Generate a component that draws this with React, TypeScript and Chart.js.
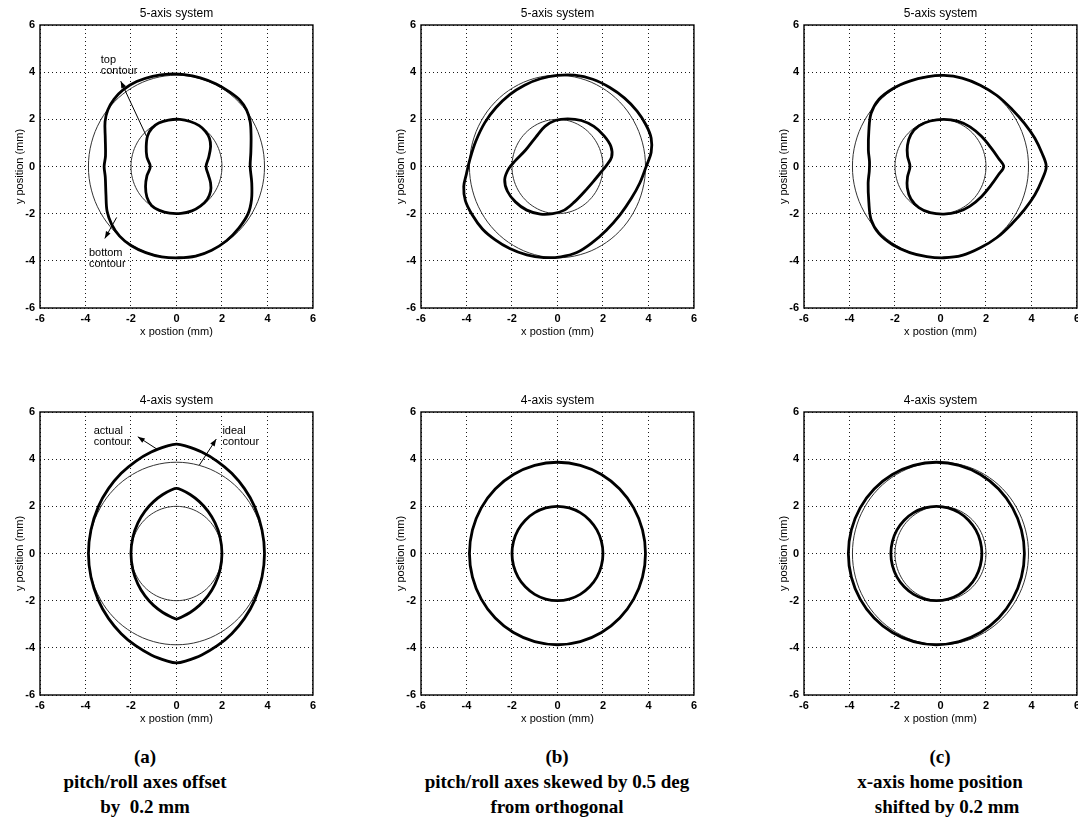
import React, { useEffect, useRef } from 'react';
import { Chart, registerables } from 'chart.js';

Chart.register(...registerables);

type Pt = [number, number];

// ---------- axes ----------
const AXIS_TICKS = [-6, -4, -2, 0, 2, 4, 6];
const AXIS_MIN = -6;
const AXIS_MAX = 6;
const X_LABEL = 'x postion (mm)';
const Y_LABEL = 'y position (mm)';
const TITLE_5 = '5-axis system';
const TITLE_4 = '4-axis system';

// ---------- ideal contours (thin) ----------
const IDEAL_INNER: Pt[] = [
  [2, 0], [1.932, 0.518], [1.732, 1], [1.414, 1.414], [1, 1.732], [0.518, 1.932], [0, 2],
  [-0.518, 1.932], [-1, 1.732], [-1.414, 1.414], [-1.732, 1], [-1.932, 0.518], [-2, 0],
  [-1.932, -0.518], [-1.732, -1], [-1.414, -1.414], [-1, -1.732], [-0.518, -1.932], [0, -2],
  [0.518, -1.932], [1, -1.732], [1.414, -1.414], [1.732, -1], [1.932, -0.518],
];
const IDEAL_OUTER: Pt[] = [
  [3.87, 0], [3.738, 1.002], [3.351, 1.935], [2.737, 2.737], [1.935, 3.351], [1.002, 3.738], [0, 3.87],
  [-1.002, 3.738], [-1.935, 3.351], [-2.737, 2.737], [-3.351, 1.935], [-3.738, 1.002], [-3.87, 0],
  [-3.738, -1.002], [-3.351, -1.935], [-2.737, -2.737], [-1.935, -3.351], [-1.002, -3.738], [0, -3.87],
  [1.002, -3.738], [1.935, -3.351], [2.737, -2.737], [3.351, -1.935], [3.738, -1.002],
];

// ---------- (a) 5-axis actual contours ----------
const A5_OUTER: Pt[] = [
  [3.24, 0], [3.27, 0.6], [3.28, 1.3], [3.24, 1.9], [3.08, 2.4], [2.8, 2.8], [2.35, 3.15], [1.75, 3.5],
  [1.05, 3.76], [0.35, 3.9], [-0.35, 3.92], [-1.05, 3.82], [-1.75, 3.6], [-2.35, 3.25], [-2.75, 2.85],
  [-3.02, 2.4], [-3.14, 1.9], [-3.13, 1.2], [-3.12, 0.45], [-3.18, 0], [-3.13, -0.45], [-3.1, -1.2],
  [-3.05, -1.9], [-2.85, -2.45], [-2.5, -2.95], [-2.0, -3.35], [-1.35, -3.65], [-0.65, -3.83],
  [0.1, -3.87], [0.85, -3.8], [1.55, -3.55], [2.2, -3.15], [2.75, -2.6], [3.15, -2.0], [3.3, -1.4],
  [3.31, -0.7],
];
const A5_INNER: Pt[] = [
  [1.3, 0], [1.42, 0.4], [1.5, 0.85], [1.45, 1.2], [1.28, 1.48], [1.0, 1.73], [0.6, 1.91], [0.15, 2.0],
  [-0.35, 1.97], [-0.78, 1.84], [-1.08, 1.62], [-1.27, 1.3], [-1.33, 0.85], [-1.3, 0.4], [-1.15, 0],
  [-1.3, -0.4], [-1.36, -0.85], [-1.3, -1.3], [-1.1, -1.65], [-0.75, -1.86], [-0.3, -1.98],
  [0.2, -1.99], [0.68, -1.88], [1.05, -1.68], [1.35, -1.4], [1.5, -1.05], [1.5, -0.7], [1.4, -0.35],
];

// ---------- (b) 5-axis actual contours ----------
const B5_OUTER: Pt[] = [
  [3.9, 0], [4.12, 0.6], [4.12, 1.2], [3.9, 1.75], [3.5, 2.35], [2.95, 2.9], [2.3, 3.35], [1.55, 3.7],
  [0.75, 3.87], [0.0, 3.86], [-0.75, 3.72], [-1.45, 3.45], [-2.1, 3.05], [-2.7, 2.5], [-3.2, 1.85],
  [-3.6, 1.05], [-3.85, 0.3], [-4.0, -0.3], [-4.12, -0.85], [-4.05, -1.45], [-3.75, -2.05],
  [-3.3, -2.65], [-2.75, -3.1], [-2.1, -3.48], [-1.35, -3.75], [-0.6, -3.86], [0.15, -3.83],
  [0.85, -3.65], [1.5, -3.25], [2.15, -2.7], [2.75, -2.05], [3.25, -1.35], [3.62, -0.7],
];
const B5_INNER: Pt[] = [
  [2.12, 0], [2.38, 0.4], [2.35, 0.85], [2.05, 1.3], [1.6, 1.7], [1.05, 1.95], [0.45, 2.02],
  [-0.1, 1.95], [-0.55, 1.7], [-0.95, 1.25], [-1.4, 0.7], [-1.85, 0.25], [-2.15, -0.1],
  [-2.32, -0.55], [-2.2, -1.05], [-1.85, -1.5], [-1.35, -1.85], [-0.75, -2.02], [-0.2, -2.0],
  [0.3, -1.85], [0.75, -1.5], [1.2, -1.05], [1.65, -0.55], [1.95, -0.2],
];

// ---------- (c) 5-axis actual contours ----------
const C5_OUTER: Pt[] = [
  [4.65, 0], [4.47, 0.55], [4.15, 1.2], [3.7, 1.82], [3.15, 2.42], [2.5, 3.0], [1.75, 3.45],
  [0.95, 3.75], [0.15, 3.86], [-0.6, 3.8], [-1.35, 3.62], [-2.1, 3.3], [-2.7, 2.85], [-3.05, 2.25],
  [-3.15, 1.5], [-3.17, 0.7], [-3.12, 0.2], [-3.13, -0.2], [-3.18, -0.7], [-3.15, -1.5],
  [-3.05, -2.25], [-2.7, -2.85], [-2.1, -3.32], [-1.35, -3.65], [-0.6, -3.82], [0.15, -3.87],
  [0.95, -3.77], [1.75, -3.45], [2.5, -3.0], [3.15, -2.42], [3.7, -1.82], [4.15, -1.2], [4.47, -0.55],
];
const C5_INNER: Pt[] = [
  [2.78, 0], [2.55, 0.35], [2.2, 0.82], [1.8, 1.28], [1.3, 1.68], [0.75, 1.92], [0.15, 2.0],
  [-0.45, 1.93], [-0.95, 1.72], [-1.3, 1.36], [-1.45, 0.9], [-1.45, 0.45], [-1.34, 0],
  [-1.45, -0.45], [-1.46, -0.9], [-1.3, -1.38], [-0.95, -1.74], [-0.45, -1.96], [0.15, -2.02],
  [0.75, -1.93], [1.3, -1.68], [1.8, -1.28], [2.2, -0.82], [2.55, -0.35],
];

// ---------- (a) 4-axis actual contours ----------
const A4_OUTER: Pt[] = [
  [3.87, 0], [3.76, 1], [3.43, 2], [2.99, 2.75], [2.43, 3.4], [1.81, 3.9], [1.11, 4.3], [0.43, 4.55],
  [0, 4.64], [-0.43, 4.55], [-1.11, 4.3], [-1.81, 3.9], [-2.43, 3.4], [-2.99, 2.75], [-3.43, 2],
  [-3.76, 1], [-3.87, 0], [-3.76, -1], [-3.43, -2], [-2.99, -2.75], [-2.43, -3.4], [-1.81, -3.9],
  [-1.11, -4.3], [-0.43, -4.55], [0, -4.64], [0.43, -4.55], [1.11, -4.3], [1.81, -3.9], [2.43, -3.4],
  [2.99, -2.75], [3.43, -2], [3.76, -1],
];
const A4_INNER: Pt[] = [
  [2, 0], [1.915, 0.7], [1.696, 1.3], [1.383, 1.8], [1.006, 2.2], [0.6, 2.5], [0.21, 2.7], [0, 2.76],
  [-0.21, 2.7], [-0.6, 2.5], [-1.006, 2.2], [-1.383, 1.8], [-1.696, 1.3], [-1.915, 0.7], [-2, 0],
  [-1.915, -0.7], [-1.696, -1.3], [-1.383, -1.8], [-1.006, -2.2], [-0.6, -2.5], [-0.21, -2.7],
  [0, -2.78], [0.21, -2.7], [0.6, -2.5], [1.006, -2.2], [1.383, -1.8], [1.696, -1.3], [1.915, -0.7],
];

// ---------- (c) 4-axis actual contours (shifted circles) ----------
const C4_OUTER: Pt[] = [
  [3.69, 0], [3.558, 1.002], [3.171, 1.935], [2.557, 2.737], [1.755, 3.351], [0.822, 3.738], [-0.18, 3.87],
  [-1.182, 3.738], [-2.115, 3.351], [-2.917, 2.737], [-3.531, 1.935], [-3.918, 1.002], [-4.05, 0],
  [-3.918, -1.002], [-3.531, -1.935], [-2.917, -2.737], [-2.115, -3.351], [-1.182, -3.738], [-0.18, -3.87],
  [0.822, -3.738], [1.755, -3.351], [2.557, -2.737], [3.171, -1.935], [3.558, -1.002],
];
const C4_INNER: Pt[] = [
  [1.82, 0], [1.752, 0.518], [1.552, 1], [1.234, 1.414], [0.82, 1.732], [0.338, 1.932], [-0.18, 2],
  [-0.698, 1.932], [-1.18, 1.732], [-1.594, 1.414], [-1.912, 1], [-2.112, 0.518], [-2.18, 0],
  [-2.112, -0.518], [-1.912, -1], [-1.594, -1.414], [-1.18, -1.732], [-0.698, -1.932], [-0.18, -2],
  [0.338, -1.932], [0.82, -1.732], [1.234, -1.414], [1.552, -1], [1.752, -0.518],
];

// ---------- annotations (data units) ----------
type Note = { text: string[]; x: number; y: number };
type Arrow = { from: Pt; to: Pt };
const A5_NOTES: Note[] = [
  { text: ['top', 'contour'], x: -3.33, y: 4.5 },
  { text: ['bottom', 'contour'], x: -3.85, y: -3.66 },
];
const A5_ARROWS: Arrow[] = [
  { from: [-1.27, 1.18], to: [-2.45, 3.62] },
  { from: [-2.63, -2.16], to: [-3.15, -3.05] },
];
const A4_NOTES: Note[] = [
  { text: ['actual', 'contour'], x: -3.64, y: 5.21 },
  { text: ['ideal', 'contour'], x: 2.02, y: 5.21 },
];
const A4_ARROWS: Arrow[] = [
  { from: [-0.85, 4.42], to: [-1.7, 4.95] },
  { from: [1.0, 3.74], to: [1.75, 4.85] },
];

// ---------- captions ----------
const CAPTION_A = ['(a)', 'pitch/roll axes offset', 'by  0.2 mm'];
const CAPTION_B = ['(b)', 'pitch/roll axes skewed by 0.5 deg', 'from orthogonal'];
const CAPTION_C = ['(c)', 'x-axis home position', '   shifted by 0.2 mm'];

// ---------- layout / style ----------
const SANS = '"Liberation Sans", Arial, Helvetica, sans-serif';
const SERIF = '"Liberation Serif", "Times New Roman", Times, serif';
const PLOT_W = 274;
const PLOT_H = 283;
const PAD_L = 40;
const PAD_T = 25;
const PAD_R = 6;
const PAD_B = 34;
const CANVAS_W = PAD_L + PLOT_W + PAD_R;
const CANVAS_H = PAD_T + PLOT_H + PAD_B;

type PanelCfg = {
  left: number;
  top: number;
  title: string;
  actual: Pt[][];
  notes: Note[];
  arrows: Arrow[];
};

const PANELS: PanelCfg[] = [
  { left: 40, top: 25, title: TITLE_5, actual: [A5_OUTER, A5_INNER], notes: A5_NOTES, arrows: A5_ARROWS },
  { left: 421, top: 25, title: TITLE_5, actual: [B5_OUTER, B5_INNER], notes: [], arrows: [] },
  { left: 804, top: 25, title: TITLE_5, actual: [C5_OUTER, C5_INNER], notes: [], arrows: [] },
  { left: 40, top: 412, title: TITLE_4, actual: [A4_OUTER, A4_INNER], notes: A4_NOTES, arrows: A4_ARROWS },
  { left: 421, top: 412, title: TITLE_4, actual: [IDEAL_OUTER, IDEAL_INNER], notes: [], arrows: [] },
  { left: 804, top: 412, title: TITLE_4, actual: [C4_OUTER, C4_INNER], notes: [], arrows: [] },
];

const CAPTIONS = [
  { lines: CAPTION_A, cx: 145 },
  { lines: CAPTION_B, cx: 557 },
  { lines: CAPTION_C, cx: 940 },
];

const closeLoops = {
  id: 'closeLoops',
  afterDatasetsUpdate(chart: any) {
    chart.data.datasets.forEach((_: any, i: number) => {
      const line = chart.getDatasetMeta(i).dataset;
      if (!line) return;
      line._loop = true;
      line._fullLoop = true;
      line.points = line.points;
      if (typeof line.updateControlPoints === 'function') {
        line.updateControlPoints(chart.chartArea, 'x');
      }
    });
  },
};

function makeDecor(title: string, notes: Note[], arrows: Arrow[]) {
  return {
    id: 'decor',
    afterDatasetsDraw(chart: any) {
      const { ctx, chartArea: a } = chart;
      const sx = chart.scales.x;
      const sy = chart.scales.y;
      ctx.save();
      ctx.setLineDash([]);
      ctx.strokeStyle = '#000';
      ctx.lineWidth = 1.4;
      ctx.strokeRect(a.left, a.top, a.right - a.left, a.bottom - a.top);
      ctx.fillStyle = '#000';
      ctx.font = `12px ${SANS}`;
      ctx.textAlign = 'center';
      ctx.textBaseline = 'middle';
      ctx.fillText(title, (a.left + a.right) / 2, a.top - 11);
      ctx.font = `11px ${SANS}`;
      ctx.textAlign = 'left';
      notes.forEach((n) => {
        const x = sx.getPixelForValue(n.x);
        const y = sy.getPixelForValue(n.y);
        n.text.forEach((t, k) => ctx.fillText(t, x, y + k * 11));
      });
      ctx.lineWidth = 1;
      arrows.forEach((ar) => {
        const x1 = sx.getPixelForValue(ar.from[0]);
        const y1 = sy.getPixelForValue(ar.from[1]);
        const x2 = sx.getPixelForValue(ar.to[0]);
        const y2 = sy.getPixelForValue(ar.to[1]);
        ctx.beginPath();
        ctx.moveTo(x1, y1);
        ctx.lineTo(x2, y2);
        ctx.stroke();
        const ang = Math.atan2(y2 - y1, x2 - x1);
        const L = 7;
        const W = 2.6;
        const c = Math.cos(ang);
        const s = Math.sin(ang);
        ctx.beginPath();
        ctx.moveTo(x2, y2);
        ctx.lineTo(x2 - L * c + W * s, y2 - L * s - W * c);
        ctx.lineTo(x2 - L * c - W * s, y2 - L * s + W * c);
        ctx.closePath();
        ctx.fill();
      });
      ctx.restore();
    },
  };
}

function axisCfg(isX: boolean) {
  return {
    type: 'linear' as const,
    min: AXIS_MIN,
    max: AXIS_MAX,
    afterBuildTicks: (s: any) => {
      s.ticks = AXIS_TICKS.map((v) => ({ value: v }));
    },
    afterFit: (s: any) => {
      if (isX) s.height = PAD_B;
      else s.width = PAD_L;
    },
    grid: { color: '#000', lineWidth: 0.9, drawTicks: false },
    border: { display: false, dash: [1, 3] },
    ticks: {
      autoSkip: false,
      maxRotation: 0,
      padding: isX ? 4 : 5,
      color: '#000',
      font: { family: SANS, size: 11, weight: 'bold' as const },
      callback: (v: any) => String(v),
    },
    title: {
      display: true,
      text: isX ? X_LABEL : Y_LABEL,
      color: '#000',
      font: { family: SANS, size: 11 },
      padding: isX ? { top: 0, bottom: 3 } : { top: 13, bottom: 0 },
    },
  };
}

function Panel({ cfg }: { cfg: PanelCfg }) {
  const ref = useRef<HTMLCanvasElement>(null);
  useEffect(() => {
    if (!ref.current) return;
    const lineDs = (pts: Pt[], thick: boolean) => ({
      data: pts.map(([x, y]) => ({ x, y })),
      showLine: true,
      pointRadius: 0,
      borderColor: thick ? '#000' : '#333',
      borderWidth: thick ? 2.8 : 1,
      tension: 0.35,
      fill: false,
    });
    const datasets = [
      ...cfg.actual.map((p) => lineDs(p, true)),
      lineDs(IDEAL_OUTER, false),
      lineDs(IDEAL_INNER, false),
    ];
    const chart = new Chart(ref.current, {
      type: 'scatter',
      data: { datasets },
      options: {
        animation: false,
        responsive: false,
        maintainAspectRatio: false,
        devicePixelRatio: 1,
        events: [],
        layout: { padding: { top: PAD_T, right: PAD_R, left: 0, bottom: 0 } },
        plugins: {
          legend: { display: false },
          tooltip: { enabled: false },
          title: { display: false },
        },
        scales: { x: axisCfg(true), y: axisCfg(false) } as any,
      },
      plugins: [closeLoops, makeDecor(cfg.title, cfg.notes, cfg.arrows)],
    });
    return () => chart.destroy();
  }, []);
  return (
    <canvas
      ref={ref}
      width={CANVAS_W}
      height={CANVAS_H}
      style={{
        position: 'absolute',
        left: cfg.left - PAD_L,
        top: cfg.top - PAD_T,
        width: CANVAS_W,
        height: CANVAS_H,
      }}
    />
  );
}

export default function App() {
  return (
    <div
      style={{
        position: 'absolute',
        left: 0,
        top: 0,
        width: 1078,
        height: 819,
        background: '#fff',
        overflow: 'hidden',
      }}
    >
      {PANELS.map((p, i) => (
        <Panel key={i} cfg={p} />
      ))}
      {CAPTIONS.map((c, i) => (
        <div
          key={i}
          style={{
            position: 'absolute',
            left: c.cx - 220,
            width: 440,
            top: 744,
            textAlign: 'center',
            fontFamily: SERIF,
            fontWeight: 'bold',
            fontSize: 19,
            lineHeight: '25px',
            color: '#000',
            whiteSpace: 'pre',
          }}
        >
          {c.lines.map((l, k) => (
            <div key={k}>{l}</div>
          ))}
        </div>
      ))}
    </div>
  );
}
